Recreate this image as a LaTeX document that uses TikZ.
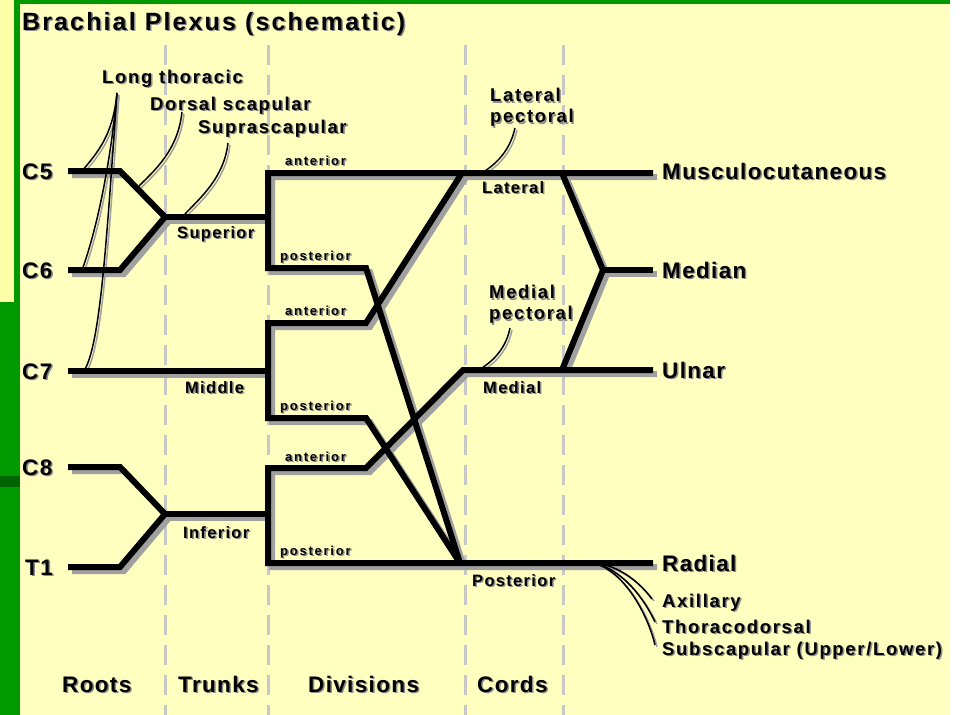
\documentclass[tikz,border=0pt]{standalone}
\usepackage{fontspec}
\setmainfont{Liberation Sans}
\usepackage{tikz}
\definecolor{slidegreen}{RGB}{0,153,0}
\definecolor{darkgreen}{RGB}{0,100,0}
\definecolor{paleyellow}{RGB}{255,255,192}
\definecolor{boxyellow}{RGB}{255,255,168}
\definecolor{sepgray}{RGB}{200,200,200}
\definecolor{shadegray}{RGB}{160,160,160}
\definecolor{txtshade}{RGB}{140,140,140}
% text with a grey drop shadow
\newcommand{\shd}[1]{\rlap{\kern1.5pt\raisebox{-1.5pt}{\color{txtshade}#1}}#1}
\tikzset{
  lbltitle/.style={inner sep=0pt, anchor=base west,
    font=\fontsize{25}{28}\selectfont\bfseries\addfontfeature{LetterSpace=8.5}},
  lblbig/.style={inner sep=0pt, anchor=base west,
    font=\fontsize{22.5}{25}\selectfont\bfseries\addfontfeature{LetterSpace=6}},
  lblmed/.style={inner sep=0pt, anchor=base west,
    font=\fontsize{18.5}{21}\selectfont\bfseries\addfontfeature{LetterSpace=9}},
  lblmid/.style={inner sep=0pt, anchor=base west,
    font=\fontsize{16.5}{19}\selectfont\bfseries\addfontfeature{LetterSpace=8}},
  lbltiny/.style={inner sep=0pt, anchor=base west,
    font=\fontsize{13}{15}\selectfont\bfseries\addfontfeature{LetterSpace=13.5}},
  nerve/.style={line width=6pt, line join=miter},
  branch/.style={line width=1.5pt},
  separator/.style={sepgray, line width=3pt, dash pattern=on 20pt off 10pt},
}
% thick nerve trunks
\newcommand{\nervepaths}{%
  \draw[nerve] (r5a) -- (r5b) -- (tsup) -- (r6b) -- (r6a);
  \draw[nerve] (tsup) -- (dsup);
  \draw[nerve] (emus) -- (sa) -- (sp) -- (spb) -- (cpost);
  \draw[nerve] (r7a) -- (dmid);
  \draw[nerve] (clat) -- (mab) -- (ma) -- (mp) -- (mpb) -- (cpost);
  \draw[nerve] (r8a) -- (r8b) -- (tinf) -- (r1b) -- (r1a);
  \draw[nerve] (tinf) -- (dinf);
  \draw[nerve] (euln) -- (cmed) -- (iab) -- (ia) -- (ip) -- (erad);
  \draw[nerve] (clatE) -- (jmed) -- (cmedE);
  \draw[nerve] (jmed) -- (emed);
}
% thin side branches
\newcommand{\branchpaths}{%
  \draw[branch] (lt) .. controls (113,135) and (98,152) .. (ltc5);
  \draw[branch] (lt) .. controls (110,170) and (95,235) .. (ltc6);
  \draw[branch] (lt) .. controls (106,250) and (100,345) .. (ltc7);
  \draw[branch] (ds) .. controls (178,150) and (155,170) .. (dsj);
  \draw[branch] (ss) .. controls (224,178) and (200,198) .. (ssj);
  \draw[branch] (lp) .. controls (510,150) and (498,162) .. (lpj);
  \draw[branch] (mpe) .. controls (506,348) and (494,360) .. (mpj);
  \draw[branch] (sb) .. controls (620,565) and (640,583) .. (ax);
  \draw[branch] (sb) .. controls (622,568) and (645,600) .. (th);
  \draw[branch] (sb) .. controls (624,570) and (648,615) .. (sc);
}

\begin{document}
\begin{tikzpicture}[x=1pt,y=-1pt]
    \useasboundingbox (0,0) rectangle (970,715);
    % slide background
    \fill[white] (0,0) rectangle (970,715);
    \fill[paleyellow] (20,4) rectangle (950,715);
    \fill[slidegreen] (14,0) rectangle (950,4);
    \fill[slidegreen] (14,0) rectangle (20,715);
    \fill[boxyellow] (0,0) rectangle (14,302);
    \fill[slidegreen] (0,302) rectangle (14,715);
    \fill[darkgreen] (0,476) rectangle (20,487);
    % column separators
    \foreach \x in {165,268,465,563}
        \draw[separator] (\x,45) -- (\x,715);

    % roots and trunks
    \coordinate (r5a) at (68,171);  \coordinate (r5b) at (120,171);
    \coordinate (r6a) at (68,270);  \coordinate (r6b) at (120,270);
    \coordinate (r7a) at (68,371);
    \coordinate (r8a) at (68,467);  \coordinate (r8b) at (120,467);
    \coordinate (r1a) at (68,567);  \coordinate (r1b) at (120,567);
    \coordinate (tsup) at (165,217); \coordinate (dsup) at (268,217);
    \coordinate (dmid) at (268,371);
    \coordinate (tinf) at (165,514); \coordinate (dinf) at (268,514);
    % divisions
    \coordinate (sa) at (268,173);  \coordinate (sp) at (268,268);
    \coordinate (spb) at (366,268);
    \coordinate (ma) at (268,323);  \coordinate (mab) at (366,323);
    \coordinate (mp) at (268,418);  \coordinate (mpb) at (366,418);
    \coordinate (ia) at (268,468);  \coordinate (iab) at (366,468);
    \coordinate (ip) at (268,563);
    % cords and terminal nerves
    \coordinate (clat) at (462,173); \coordinate (clatE) at (562,173);
    \coordinate (cmed) at (463,370); \coordinate (cmedE) at (562,370);
    \coordinate (cpost) at (460,563);
    \coordinate (jmed) at (603,270);
    \coordinate (emus) at (653,173); \coordinate (emed) at (653,270);
    \coordinate (euln) at (653,370); \coordinate (erad) at (653,563);
    % branch ends
    \coordinate (lt) at (117,93);
    \coordinate (ltc5) at (82,171); \coordinate (ltc6) at (82,270);
    \coordinate (ltc7) at (84,371);
    \coordinate (ds) at (182,112);  \coordinate (dsj) at (139,186);
    \coordinate (ss) at (228,143);  \coordinate (ssj) at (185,214);
    \coordinate (lp) at (515,128);  \coordinate (lpj) at (485,171);
    \coordinate (mpe) at (510,328); \coordinate (mpj) at (482,368);
    \coordinate (sb) at (593,563);
    \coordinate (ax) at (652,599);  \coordinate (th) at (655,622);
    \coordinate (sc) at (655,645);

    % shadows first, then the black lines
    \begin{scope}[shadegray, transform canvas={xshift=4pt,yshift=-4pt}]
        \nervepaths
    \end{scope}
    \begin{scope}[shadegray, transform canvas={xshift=2pt,yshift=-2pt}]
        \branchpaths
    \end{scope}
    \begin{scope}[black]
        \nervepaths
        \branchpaths
    \end{scope}

    % labels
    \node[lbltitle] (title) at (22,30) {\shd{Brachial Plexus (schematic)}};
    \node[lblbig] (c5) at (22,179) {\shd{C5}};
    \node[lblbig] (c6) at (22,278) {\shd{C6}};
    \node[lblbig] (c7) at (22,379) {\shd{C7}};
    \node[lblbig] (c8) at (22,475) {\shd{C8}};
    \node[lblbig] (t1) at (25,575) {\shd{T1}};
    \node[lblmed] (longth) at (102,83) {\shd{Long thoracic}};
    \node[lblmed] (dorsal) at (150,110) {\shd{Dorsal scapular}};
    \node[lblmed] (supra) at (198,133) {\shd{Suprascapular}};
    \node[lblmid] (superior) at (177,238) {\shd{Superior}};
    \node[lblmid] (middle) at (185,393) {\shd{Middle}};
    \node[lblmid] (inferior) at (183,538) {\shd{Inferior}};
    \node[lbltiny] (ant1) at (285,165) {\shd{anterior}};
    \node[lbltiny] (post1) at (280,260) {\shd{posterior}};
    \node[lbltiny] (ant2) at (285,315) {\shd{anterior}};
    \node[lbltiny] (post2) at (280,410) {\shd{posterior}};
    \node[lbltiny] (ant3) at (285,461) {\shd{anterior}};
    \node[lbltiny] (post3) at (280,555) {\shd{posterior}};
    \node[lblmid] (lateral) at (482,193) {\shd{Lateral}};
    \node[lblmid] (medial) at (483,393) {\shd{Medial}};
    \node[lblmid] (posterior) at (472,586) {\shd{Posterior}};
    \node[lblmed, anchor=north west, align=left] (latpec) at (490,88)
        {\shd{Lateral}\\\shd{pectoral}};
    \node[lblmed, anchor=north west, align=left] (medpec) at (489,285)
        {\shd{Medial}\\\shd{pectoral}};
    \node[lblbig] (musc) at (662,179) {\shd{Musculocutaneous}};
    \node[lblbig] (median) at (662,278) {\shd{Median}};
    \node[lblbig] (ulnar) at (662,378) {\shd{Ulnar}};
    \node[lblbig] (radial) at (662,571) {\shd{Radial}};
    \node[lblmed] (axill) at (662,607) {\shd{Axillary}};
    \node[lblmed] (thorac) at (662,633) {\shd{Thoracodorsal}};
    \node[lblmed] (subsc) at (662,655) {\shd{Subscapular (Upper/Lower)}};
    \node[lblbig] (roots) at (62,692) {\shd{Roots}};
    \node[lblbig] (trunks) at (178,692) {\shd{Trunks}};
    \node[lblbig] (divisions) at (308,692) {\shd{Divisions}};
    \node[lblbig] (cords) at (477,692) {\shd{Cords}};
\end{tikzpicture}
\end{document}
